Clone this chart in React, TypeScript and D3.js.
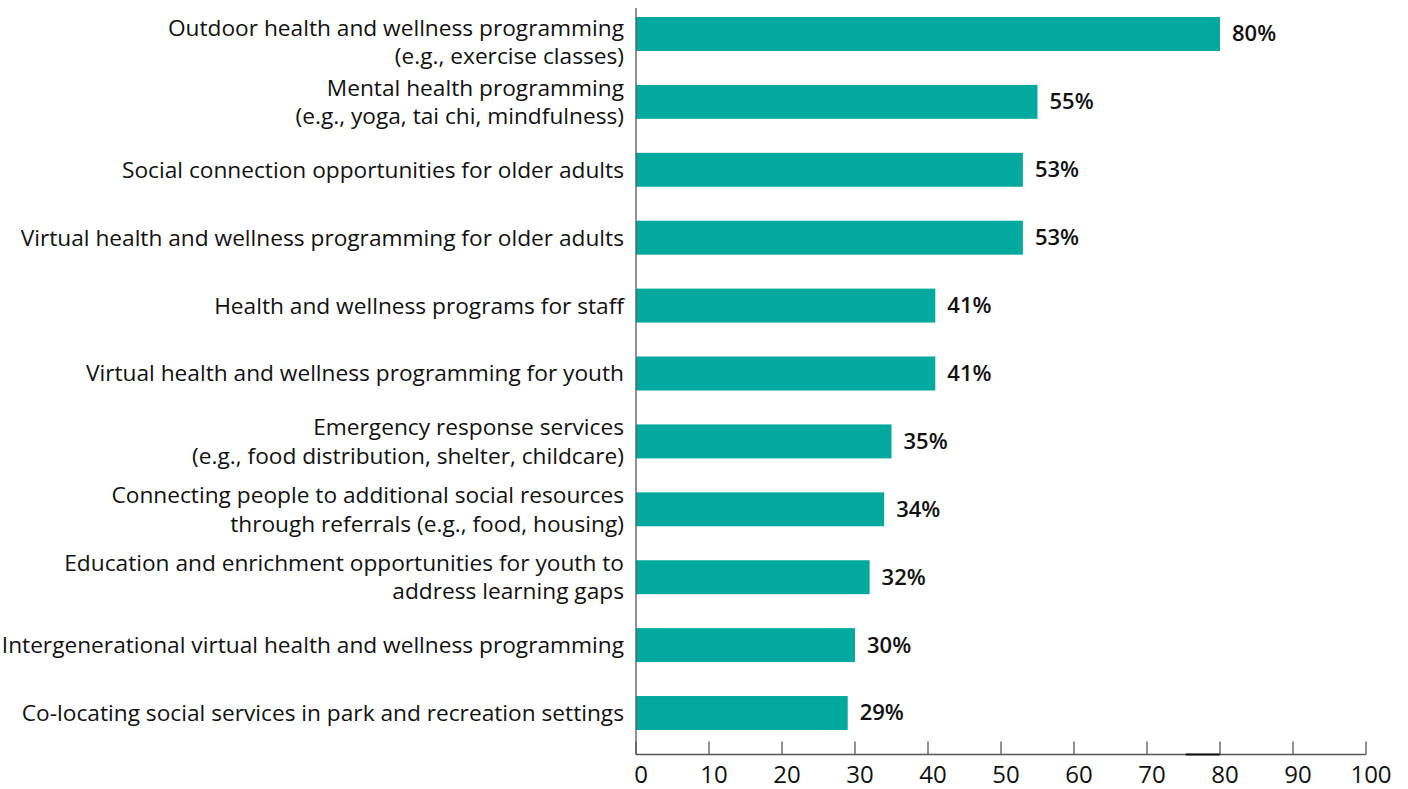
import React from "react";
import * as d3 from "d3";

const categories: string[][] = [
  ["Outdoor health and wellness programming", "(e.g., exercise classes)"],
  ["Mental health programming", "(e.g., yoga, tai chi, mindfulness)"],
  ["Social connection opportunities for older adults"],
  ["Virtual health and wellness programming for older adults"],
  ["Health and wellness programs for staff"],
  ["Virtual health and wellness programming for youth"],
  ["Emergency response services", "(e.g., food distribution, shelter, childcare)"],
  ["Connecting people to additional social resources", "through referrals (e.g., food, housing)"],
  ["Education and enrichment opportunities for youth to", "address learning gaps"],
  ["Intergenerational virtual health and wellness programming"],
  ["Co-locating social services in park and recreation settings"],
];
const values: number[] = [80, 55, 53, 53, 41, 41, 35, 34, 32, 30, 29];
const xTicks: number[] = [0, 10, 20, 30, 40, 50, 60, 70, 80, 90, 100];

const W = 1408;
const H = 789;
const BAR = "#02A99E";
const AXIS = "#555555";
const LABEL_FONT = "'Open Sans', 'Noto Sans', sans-serif";

export default function App() {
  const x = d3.scaleLinear().domain([0, 100]).range([636, 1366]);
  const y = d3
    .scaleBand<number>()
    .domain(values.map((_, i) => i))
    .range([17, 730])
    .paddingInner(0.5)
    .paddingOuter(0);
  const bw = y.bandwidth();
  const axisY = 754.5;

  return (
    <svg
      width={W}
      height={H}
      style={{ position: "absolute", left: 0, top: 0, background: "#fff" }}
    >
      {values.map((v, i) => {
        const cy = (y(i) as number) + bw / 2;
        const lines = categories[i];
        const lh = 28.5;
        const shift = i === 0 ? 8 : 0;
        return (
          <g key={i}>
            <rect x={x(0)} y={y(i)} width={x(v) - x(0)} height={bw} fill={BAR} />
            <text
              x={x(v) + 12}
              y={cy + 1.5}
              dominantBaseline="middle"
              fontFamily={LABEL_FONT}
              fontWeight={600}
              fontSize={22}
              fill="#111"
            >
              {v}%
            </text>
            {lines.map((ln, j) => (
              <text
                key={j}
                x={624}
                y={cy + shift + (j - (lines.length - 1) / 2) * lh}
                dy="0.35em"
                textAnchor="end"
                fontFamily={LABEL_FONT}
                fontSize={22.7}
                fill="#111"
              >
                {ln}
              </text>
            ))}
          </g>
        );
      })}
      <line x1={636} x2={636} y1={8} y2={axisY} stroke={AXIS} strokeWidth={1.3} />
      <line x1={x(0)} x2={x(100)} y1={axisY} y2={axisY} stroke={AXIS} strokeWidth={1.3} />
      <line x1={x(75.3)} x2={x(80)} y1={axisY} y2={axisY} stroke="#111" strokeWidth={2} />
      {xTicks.map((t) => (
        <g key={t}>
          <line x1={x(t)} x2={x(t)} y1={axisY - 13} y2={axisY} stroke={AXIS} strokeWidth={1.3} />
          <text
            x={x(t) + 5}
            y={783}
            textAnchor="middle"
            fontFamily={LABEL_FONT}
            fontSize={24}
            fill="#111"
          >
            {t}
          </text>
        </g>
      ))}
    </svg>
  );
}
